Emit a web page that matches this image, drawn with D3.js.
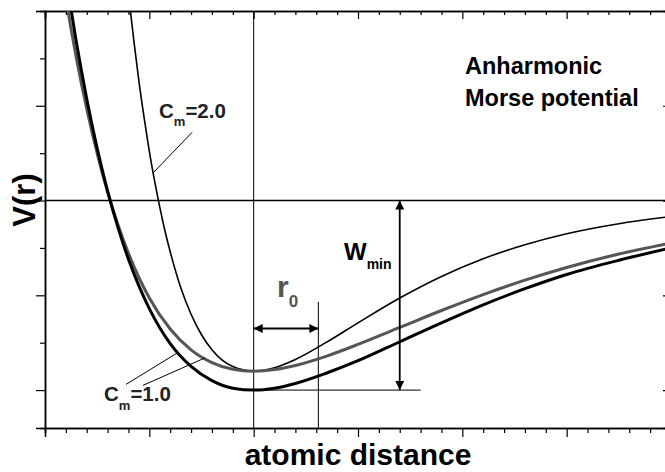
<!DOCTYPE html>
<html>
<head>
<meta charset="utf-8">
<script src="https://cdn.jsdelivr.net/npm/d3@7"></script>
<style>
  body { margin: 0; background: #fff; }
  svg { display: block; font-family: "Liberation Sans", Arial, sans-serif; font-weight: bold; }
</style>
</head>
<body>
<svg width="665" height="472"></svg>
<script>
// values (r in axis units, V in axis units)
const rThin  = [0.75, 0.8, 0.85, 0.9, 0.95, 1.0, 1.05, 1.1, 1.15, 1.2, 1.3, 1.4, 1.5, 1.6, 1.8, 2.0, 2.2, 2.4, 2.7, 3.0, 3.4, 3.8, 4.2, 4.6, 5.0, 5.5, 6.0];
const vThin  = [2.71, 2.18, 1.70, 1.26, 0.874, 0.52, 0.21, -0.07, -0.321, -0.54, -0.915, -1.20, -1.416, -1.574, -1.752, -1.80, -1.764, -1.677, -1.494, -1.291, -1.029, -0.801, -0.614, -0.466, -0.350, -0.244, -0.169];

const rMorse = [0.2, 0.25, 0.3, 0.4, 0.5, 0.6, 0.7, 0.8, 0.9, 1.0, 1.2, 1.4, 1.6, 1.8, 2.0, 2.2, 2.4, 2.7, 3.0, 3.4, 3.8, 4.2, 4.6, 5.0, 5.5, 6.0];
const vGray  = [2.13, 1.81, 1.508, 0.968, 0.497, 0.09, -0.258, -0.557, -0.812, -1.028, -1.356, -1.576, -1.710, -1.780, -1.80, -1.783, -1.740, -1.641, -1.518, -1.339, -1.160, -0.992, -0.840, -0.706, -0.564, -0.448];
const vBlack = [2.30, 2.01, 1.675, 1.075, 0.55, 0.10, -0.286, -0.62, -0.90, -1.14, -1.51, -1.75, -1.90, -1.98, -2.0, -1.98, -1.93, -1.82, -1.69, -1.49, -1.29, -1.10, -0.93, -0.78, -0.63, -0.50];

const xMajor = [0, 1, 2, 3, 4, 5, 6];
const yMajor = [-2, -1, 0, 1, 2];

const svg = d3.select('svg');
const mLeft = 45, mRight = 671, mTop = 11, mBottom = 428;

const x = d3.scaleLinear().domain([0, 6]).range([mLeft, mRight]);
const y = d3.scaleLinear().domain([-2.4, 2.0]).range([mBottom, mTop]);

const xMinor = d3.range(0, 6.01, 0.2).filter(v => Math.abs(v - Math.round(v)) > 1e-6);
const yMinor = d3.range(-2.0, 2.01, 0.5).filter(v => Math.abs(v - Math.round(v)) > 1e-6);

const defs = svg.append('defs');
defs.append('clipPath').attr('id', 'plot')
  .append('rect').attr('x', mLeft).attr('y', mTop).attr('width', mRight - mLeft).attr('height', mBottom - mTop);

// axes
function ax(gen, tr, vals, size) {
  svg.append('g').attr('transform', tr)
    .call(gen.tickValues(vals).tickSize(size).tickFormat(''))
    .call(g => g.select('.domain').attr('stroke-width', 1.5))
    .call(g => g.selectAll('.tick line').attr('stroke-width', 1.2));
}
ax(d3.axisBottom(x), `translate(0,${mBottom})`, xMajor, 9);
ax(d3.axisBottom(x), `translate(0,${mBottom})`, xMinor, 5);
ax(d3.axisTop(x), `translate(0,${mTop})`, xMajor, -8);
ax(d3.axisTop(x), `translate(0,${mTop})`, xMinor, -4);
ax(d3.axisLeft(y), `translate(${mLeft},0)`, yMajor, 9);
ax(d3.axisLeft(y), `translate(${mLeft},0)`, yMinor, 5);
ax(d3.axisRight(y), `translate(${mRight},0)`, yMajor, -8);
ax(d3.axisRight(y), `translate(${mRight},0)`, yMinor, -4);

// reference lines
svg.append('line').attr('x1', mLeft).attr('x2', mRight).attr('y1', y(0)).attr('y2', y(0))
  .attr('stroke', '#000').attr('stroke-width', 1.5);
svg.append('line').attr('x1', x(2)).attr('x2', x(2)).attr('y1', mTop).attr('y2', mBottom)
  .attr('stroke', '#000').attr('stroke-width', 1);
svg.append('line').attr('x1', x(2.62)).attr('x2', x(2.62)).attr('y1', y(-1.07)).attr('y2', mBottom)
  .attr('stroke', '#000').attr('stroke-width', 1);
svg.append('line').attr('x1', x(2)).attr('x2', x(3.6)).attr('y1', y(-2)).attr('y2', y(-2))
  .attr('stroke', '#000').attr('stroke-width', 1);

// curves
const line = d3.line().x(d => x(d[0])).y(d => y(d[1])).curve(d3.curveMonotoneX);
const plot = svg.append('g').attr('clip-path', 'url(#plot)');
plot.append('path').datum(d3.zip(rThin, vThin)).attr('d', line)
  .attr('fill', 'none').attr('stroke', '#000').attr('stroke-width', 1.6);
plot.append('path').datum(d3.zip(rMorse, vGray)).attr('d', line)
  .attr('fill', 'none').attr('stroke', '#555').attr('stroke-width', 3);
plot.append('path').datum(d3.zip(rMorse, vBlack)).attr('d', line)
  .attr('fill', 'none').attr('stroke', '#000').attr('stroke-width', 3);

// arrows
defs.append('marker').attr('id', 'ah').attr('viewBox', '0 0 10 10').attr('refX', 10).attr('refY', 5)
  .attr('markerUnits', 'userSpaceOnUse').attr('markerWidth', 11).attr('markerHeight', 9)
  .attr('orient', 'auto-start-reverse')
  .append('path').attr('d', 'M0,0L10,5L0,10z').attr('fill', '#000');

svg.append('line').attr('x1', x(3.4)).attr('x2', x(3.4)).attr('y1', y(0)).attr('y2', y(-2))
  .attr('stroke', '#000').attr('stroke-width', 1.8)
  .attr('marker-start', 'url(#ah)').attr('marker-end', 'url(#ah)');
svg.append('line').attr('x1', x(2)).attr('x2', x(2.62)).attr('y1', y(-1.35)).attr('y2', y(-1.35))
  .attr('stroke', '#000').attr('stroke-width', 2)
  .attr('marker-start', 'url(#ah)').attr('marker-end', 'url(#ah)');

// pointer lines
const ptr = [[1.41, 0.72, 1.035, 0.29], [0.776, -1.94, 1.265, -1.61], [0.94, -1.95, 1.534, -1.66]];
ptr.forEach(p => svg.append('line').attr('x1', x(p[0])).attr('y1', y(p[1])).attr('x2', x(p[2])).attr('y2', y(p[3]))
  .attr('stroke', '#000').attr('stroke-width', 1));

// labels
function sub(px, py, big, small, rest, fs, ss, col, dy) {
  const t = svg.append('text').attr('x', px).attr('y', py).attr('fill', col).attr('font-size', fs);
  t.append('tspan').text(big);
  t.append('tspan').attr('font-size', ss).attr('dy', dy).text(small);
  if (rest) t.append('tspan').attr('dy', -dy).attr('font-size', fs).text(rest);
}
sub(159, 118, 'C', 'm', '=2.0', 20.5, 13, '#222', 8);
sub(104, 401, 'C', 'm', '=1.0', 20.5, 13, '#222', 9);
sub(344, 260, 'W', 'min', '', 24, 14, '#000', 9);
sub(277, 297, 'r', '0', '', 30, 17, '#555', 10);

svg.append('text').attr('x', 465).attr('y', 74).attr('font-size', 23.5).text('Anharmonic');
svg.append('text').attr('x', 465).attr('y', 106).attr('font-size', 23.5).text('Morse potential');

svg.append('text').attr('x', 358).attr('y', 465).attr('text-anchor', 'middle').attr('font-size', 30)
  .text('atomic distance');
svg.append('text').attr('transform', 'translate(35,200) rotate(-90)').attr('text-anchor', 'middle')
  .attr('font-size', 31).text('V(r)');
</script>
</body>
</html>
